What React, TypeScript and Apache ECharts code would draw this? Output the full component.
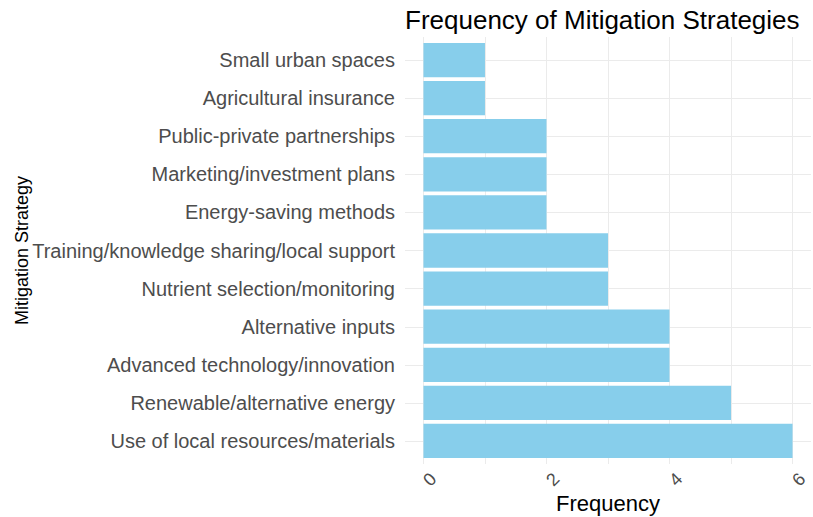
import React, { useEffect, useRef } from "react";
import * as echarts from "echarts";

// Categories listed bottom-to-top (ECharts category axis order)
const categories = [
  "Use of local resources/materials",
  "Renewable/alternative energy",
  "Advanced technology/innovation",
  "Alternative inputs",
  "Nutrient selection/monitoring",
  "Training/knowledge sharing/local support",
  "Energy-saving methods",
  "Marketing/investment plans",
  "Public-private partnerships",
  "Agricultural insurance",
  "Small urban spaces",
];
const frequencies = [6, 5, 4, 4, 3, 3, 2, 2, 2, 1, 1];
const xTickLabels = [0, 2, 4, 6];
const xGridValues = [0, 1, 2, 3, 4, 5, 6];
const yPositions = categories.map((_, i) => i + 1);

const FONT = "'Liberation Sans', Arial, sans-serif";

export default function App() {
  const ref = useRef<HTMLDivElement>(null);
  useEffect(() => {
    if (!ref.current) return;
    const chart = echarts.init(ref.current, undefined, { renderer: "svg" });
    const gridLine = { lineStyle: { color: "#EBEBEB", width: 1 } };
    chart.setOption({
      animation: false,
      backgroundColor: "#ffffff",
      title: {
        text: "Frequency of Mitigation Strategies",
        left: 400,
        top: 2,
        textStyle: { fontFamily: FONT, fontSize: 26, fontWeight: "normal", color: "#000000" },
      },
      grid: [
        { left: 405, right: 2, top: 41, bottom: 57, outerBoundsMode: "none", containLabel: false },
        { left: 405, right: 2, top: 37, bottom: 53, outerBoundsMode: "none", containLabel: false },
      ],
      xAxis: [
        {
          gridIndex: 0,
          type: "value",
          min: -0.3,
          max: 6.3,
          show: false,
        },
        {
          gridIndex: 1,
          type: "value",
          min: -0.3,
          max: 6.3,
          axisLine: { show: false },
          axisTick: { show: false, customValues: xGridValues },
          splitLine: { show: true, ...gridLine },
          axisLabel: {
            customValues: xTickLabels,
            rotate: 45,
            align: "center",
            verticalAlign: "top",
            margin: 9,
            fontFamily: FONT,
            fontSize: 18,
            color: "#4D4D4D",
          },
          name: "Frequency",
          nameLocation: "middle",
          nameGap: 28,
          nameMoveOverlap: false,
          nameTextStyle: { fontFamily: FONT, fontSize: 22, color: "#000000" },
        },
      ],
      yAxis: [
        {
          gridIndex: 0,
          type: "category",
          data: categories,
          show: false,
        },
        {
          gridIndex: 1,
          type: "value",
          min: 0.4,
          max: 11.6,
          axisLine: { show: false },
          axisTick: { show: false, customValues: yPositions },
          splitLine: { show: true, ...gridLine },
          axisLabel: {
            customValues: yPositions,
            margin: 10,
            fontFamily: FONT,
            fontSize: 20,
            color: "#4D4D4D",
            formatter: (v: number) => categories[Math.round(v) - 1] ?? "",
          },
          name: "Mitigation Strategy",
          nameLocation: "middle",
          nameRotate: 90,
          nameGap: 374,
          nameMoveOverlap: false,
          nameTextStyle: { fontFamily: FONT, fontSize: 18, color: "#000000" },
        },
      ],
      series: [
        {
          type: "bar",
          xAxisIndex: 0,
          yAxisIndex: 0,
          data: frequencies,
          barCategoryGap: "10%",
          itemStyle: { color: "#87CEEB" },
          z: 3,
        },
      ],
    });
    return () => chart.dispose();
  }, []);
  return (
    <div
      ref={ref}
      style={{ position: "absolute", left: 0, top: 0, width: 813, height: 517 }}
    />
  );
}
